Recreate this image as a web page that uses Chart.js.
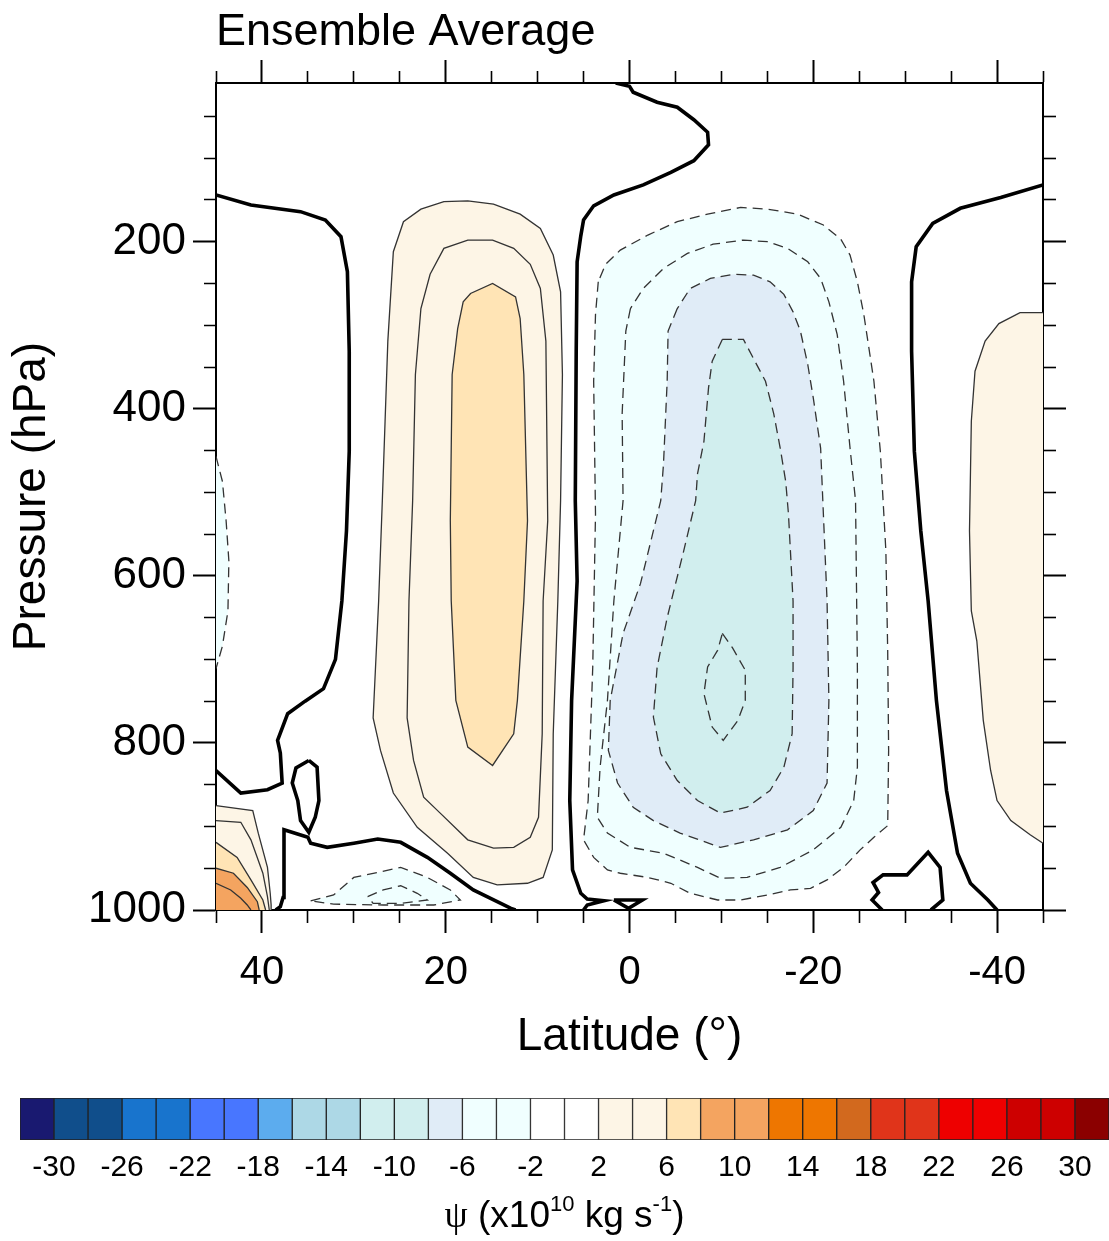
<!DOCTYPE html>
<html>
<head>
<meta charset="utf-8">
<title>Ensemble Average</title>
<script src="https://cdn.jsdelivr.net/npm/chart.js@4.4.1/dist/chart.umd.min.js"></script>
<style>
    html, body { margin: 0; padding: 0; background: #fff; }
    #wrap { position: relative; width: 1109px; height: 1241px; overflow: hidden; background: #fff; }
    #main { position: absolute; left: 0; top: 0; }
    #bar { position: absolute; left: 0; top: 1085px; }
</style>
</head>
<body>
<div id="wrap">
    <canvas id="main" width="1109" height="1075"></canvas>
    <canvas id="bar" width="1109" height="156"></canvas>
</div>
<script>
// ===== Axes =====
const latLabels = [40, 20, 0, -20, -40];
const presLabels = [200, 400, 600, 800, 1000];
const colorbarLabels = [-30, -26, -22, -18, -14, -10, -6, -2, 2, 6, 10, 14, 18, 22, 26, 30];
const contourLevels = [-30, -28, -26, -24, -22, -20, -18, -16, -14, -12, -10, -8, -6, -4, -2, 0,
                       2, 4, 6, 8, 10, 12, 14, 16, 18, 20, 22, 24, 26, 28, 30];
const palette = ['#191970', '#104e8b', '#104e8b', '#1874cd', '#1874cd', '#4876ff', '#4876ff', '#5cacee',
                 '#add8e6', '#add8e6', '#d1eeee', '#d1eeee', '#e0ecf7', '#f0ffff', '#f0ffff', '#ffffff',
                 '#ffffff', '#fdf5e6', '#fdf5e6', '#ffe4b5', '#f4a460', '#f4a460', '#ee7600', '#ee7600',
                 '#d2691e', '#e0341a', '#e0341a', '#ee0000', '#ee0000', '#cd0000', '#cd0000', '#8b0000'];

// ===== Contours, [latitude, pressure hPa] =====
// zero line
const zeroA = [[45,144],[41.2,156],[35.8,164],[33.1,174],[31.4,194],[30.7,236],[30.5,331],[30.5,451],
               [30.8,546],[31.3,630],[32.0,700],[33.3,735],[35.3,750],[37.2,765],[38.3,797],[38.0,812],
               [37.8,848],[39.4,856],[42.3,860],[45,833]];
const zeroB = [[38.5,1000],[38.0,996],[37.7,985],[37.6,952],[37.6,904],[35.0,913],[34.7,920],[32.9,925],
               [30.0,920],[27.4,915],[24.9,919],[22.0,937],[19.5,956],[17.0,976],[12.9,998],[12.4,1000]];
const zeroC = [[34.9,821],[34.0,829],[33.8,869],[34.2,889],[34.9,907],[35.8,893],[36.1,869],[36.7,848],
               [36.3,830]];
const zeroD = [[1.5,10],[0,14],[-0.4,21],[-3.0,33],[-5.2,39],[-7.0,54],[-8.5,69],[-8.6,84],[-7.0,103],
               [-4.5,117],[-1.5,132],[1.7,144],[3.9,157],[5.0,174],[5.3,193],[5.7,224],[5.8,331],
               [5.9,510],[5.7,606],[6.3,749],[6.5,869],[6.2,952],[5.3,980],[4.6,987],[2.8,989],
               [4.6,994],[5.0,1000]];
const zeroE = [[-45,132],[-40.4,147],[-36.0,160],[-33.0,178],[-31.2,206],[-30.7,248],[-30.7,331],
               [-31.0,451],[-31.7,546],[-32.5,630],[-33.4,749],[-34.5,857],[-35.7,932],[-37.1,968],
               [-39.0,988],[-40.0,1000]];
const zeroF = [[-27.5,1000],[-26.4,988],[-27.1,979],[-26.5,967],[-27.6,958],[-30.2,958],[-32.5,931],
               [-33.8,949],[-34.1,988],[-32.8,1000]];
const zeroG = [[1.7,988],[-1.4,988],[0.1,998]];

// positive
const nh2 = [[26.3,319],[25.7,212],[24.6,176],[22.7,161],[20.2,152],[17.6,151],[14.8,155],[11.9,167],
             [9.7,184],[8.3,216],[7.5,260],[7.3,359],[7.5,510],[7.8,630],[8.3,789],[8.4,928],[9.4,961],
             [11.1,968],[14.4,970],[17.0,961],[19.8,932],[23.1,901],[25.7,860],[27.1,809],[27.9,770],
             [27.3,630],[26.9,510],[26.6,415]];
const nh4 = [[23.3,359],[22.7,280],[21.7,239],[20.2,208],[17.6,198],[14.9,198],[12.6,208],[10.8,227],
             [9.7,256],[9.1,319],[8.9,534],[9.4,630],[9.5,789],[9.9,889],[10.8,913],[12.6,925],
             [14.8,926],[17.6,916],[20.6,884],[22.4,865],[23.5,821],[24.2,770],[24.0,630],[23.6,510]];
const nh6 = [[19.3,359],[18.7,304],[18.1,272],[17.3,262],[14.9,250],[12.4,266],[11.9,292],[11.5,359],
             [11.1,534],[11.5,630],[12.2,749],[12.6,789],[14.9,827],[17.6,805],[18.9,749],[19.4,630],
             [19.5,534]];
const corner2 = [[45,875],[41.0,881],[40.4,908],[39.4,949],[39.1,980],[39.0,994],[39.0,1000]];
const corner4 = [[45,893],[42.3,895],[41.2,916],[39.9,956],[39.4,984],[39.2,1000]];
const corner6 = [[45,919],[42.7,937],[41.2,964],[39.9,988],[39.6,1000]];
const corner8 = [[45,950],[43.1,956],[41.6,973],[40.5,990],[40.3,1000]];
const corner10 = [[45,968],[43.4,976],[42.3,986],[41.6,994],[41.2,1000]];
const sh2 = [[-45,285],[-42.5,285],[-40.2,298],[-38.7,319],[-37.6,355],[-37.2,415],[-37.0,546],
             [-37.2,642],[-37.8,678],[-38.5,773],[-39.3,833],[-40.0,869],[-41.5,893],[-43.6,910],
             [-45,920]];

// negative
const west2 = [[45,457],[44.3,487],[43.9,534],[43.6,582],[43.7,642],[44.3,684],[45,711]];
const low2 = [[34.7,989],[32.2,982],[30.0,961],[27.4,955],[24.9,949],[22.0,961],[19.5,976],[18.4,988],
              [21.3,994],[26.8,994],[32.2,993]];
const low4 = [[28.5,984],[26.8,976],[24.9,971],[23.1,980],[22.0,988],[24.9,992],[27.9,992]];
const cell2 = [[3.4,248],[3.7,287],[3.9,367],[3.7,526],[4.0,709],[4.5,869],[5.0,916],[3.9,937],[2.4,952],
               [1.0,956],[-2.0,961],[-4.5,968],[-6.6,980],[-9.6,988],[-12.1,988],[-15.0,982],[-17.5,976],
               [-19.7,974],[-21.5,964],[-23.3,949],[-25.1,928],[-26.6,913],[-28.1,899],[-28.2,809],
               [-28.1,690],[-27.9,570],[-27.3,451],[-26.6,367],[-25.5,287],[-24.8,248],[-24.0,216],
               [-23.0,197],[-21.1,180],[-18.3,167],[-15.0,161],[-12.1,159],[-8.5,167],[-5.2,176],
               [-2.0,192],[1.0,210],[2.6,227]];
const cell4 = [[-0.1,280],[0.4,307],[0.8,406],[0.7,510],[1.7,630],[2.4,749],[3.2,829],[3.5,889],
               [2.4,908],[-0.1,925],[-3.7,932],[-7.4,949],[-9.9,962],[-12.8,961],[-16.4,949],
               [-20.0,928],[-23.0,901],[-24.4,869],[-24.8,829],[-24.8,710],[-24.6,510],[-24.0,447],
               [-23.3,367],[-22.6,311],[-21.7,272],[-20.8,244],[-19.4,224],[-17.2,208],[-15.0,200],
               [-12.4,198],[-9.1,203],[-6.3,214],[-3.7,232],[-1.5,256]];
const cell6 = [[-5.2,280],[-4.2,307],[-4.1,367],[-3.7,466],[-3.4,510],[-1.2,609],[0.7,669],[2.1,749],
               [2.3,809],[1.3,848],[-0.4,877],[-2.6,893],[-5.5,908],[-9.9,925],[-13.5,916],[-17.2,904],
               [-20.0,881],[-21.5,848],[-21.7,749],[-21.5,630],[-21.1,526],[-20.8,447],[-20.0,387],
               [-19.4,347],[-18.6,307],[-17.8,284],[-16.8,263],[-15.3,248],[-13.5,240],[-11.3,239],
               [-8.8,244],[-6.6,256]];
const cell8 = [[-10.1,317],[-9.0,343],[-8.6,375],[-8.1,439],[-7.4,478],[-7.2,510],[-5.9,570],[-4.1,650],
               [-3.0,710],[-2.6,769],[-3.4,813],[-5.2,845],[-7.4,869],[-9.9,884],[-12.8,877],
               [-15.3,857],[-16.8,829],[-17.7,789],[-17.8,710],[-17.8,630],[-17.3,526],[-17.0,487],
               [-16.4,447],[-15.7,406],[-14.8,367],[-13.5,340],[-12.4,317]];
const cell10 = [[-10.1,669],[-11.2,686],[-12.6,713],[-12.6,749],[-11.8,773],[-10.2,797],[-9.0,781],
                [-8.1,741],[-8.5,709],[-9.6,689]];

// level, points, closed loop, extra border points to close the shaded area
const contours = [
    { level: 0, pts: zeroA }, { level: 0, pts: zeroB }, { level: 0, pts: zeroC, closed: true },
    { level: 0, pts: zeroD }, { level: 0, pts: zeroE }, { level: 0, pts: zeroF },
    { level: 0, pts: zeroG, closed: true },
    { level: 2, pts: nh2, closed: true }, { level: 4, pts: nh4, closed: true },
    { level: 6, pts: nh6, closed: true },
    { level: 2, pts: corner2, edge: [[45, 1000]] }, { level: 4, pts: corner4, edge: [[45, 1000]] },
    { level: 6, pts: corner6, edge: [[45, 1000]] }, { level: 8, pts: corner8, edge: [[45, 1000]] },
    { level: 10, pts: corner10, edge: [[45, 1000]] },
    { level: 2, pts: sh2, edge: [] },
    { level: -2, pts: west2, edge: [] },
    { level: -2, pts: low2, closed: true }, { level: -4, pts: low4, closed: true },
    { level: -2, pts: cell2, closed: true }, { level: -4, pts: cell4, closed: true },
    { level: -6, pts: cell6, closed: true }, { level: -8, pts: cell8, closed: true },
    { level: -10, pts: cell10, closed: true }
];

// ===== Helpers =====
const SANS = '"Liberation Sans", Arial, Helvetica, sans-serif';
Chart.defaults.font.family = SANS;
Chart.defaults.color = '#000';

const toXY = pts => pts.map(([x, y]) => ({ x, y }));

function fillColor(level) {
    // colour of the band just beyond the contour
    const i = level > 0 ? contourLevels.indexOf(level) + 1 : contourLevels.indexOf(level);
    return palette[i];
}

function buildDatasets() {
    const fills = [];
    const lines = [];

    contours.forEach(c => {
        const pts = c.closed ? c.pts.concat([c.pts[0]]) : c.pts;

        if (c.level !== 0 && (c.closed || c.edge)) {
            fills.push({
                abs: Math.abs(c.level),
                ds: {
                    data: toXY(c.closed ? pts : pts.concat(c.edge)),
                    fill: 'shape',
                    backgroundColor: fillColor(c.level),
                    borderWidth: 0,
                    borderColor: 'rgba(0,0,0,0)',
                    pointRadius: 0
                }
            });
        }

        let style;
        if (c.level === 0) style = { borderColor: '#000', borderWidth: 3.6 };
        else if (c.level > 0) style = { borderColor: '#333', borderWidth: 1.3 };
        else style = { borderColor: '#333', borderWidth: 1.3, borderDash: [10, 6] };

        lines.push({ data: toXY(pts), fill: false, pointRadius: 0, ...style });
    });

    fills.sort((a, b) => a.abs - b.abs);
    // first dataset is painted last, so reverse the bottom-to-top list
    return fills.map(f => f.ds).concat(lines).reverse();
}

function tickRange(from, to, step) {
    const out = [];
    for (let v = from; v <= to; v += step) out.push(v);
    return out;
}

function axis(kind, position, showLabels, size) {
    const major = kind === 'lat' ? latLabels : presLabels;
    const all = kind === 'lat' ? tickRange(-45, 45, 5) : tickRange(50, 1000, 50);
    const farFirst = position === 'top' || position === 'left';
    const isMajor = c => c.tick && major.includes(c.tick.value);

    return {
        type: 'linear',
        position: position,
        min: kind === 'lat' ? -45 : 10,
        max: kind === 'lat' ? 45 : 1000,
        reverse: true,
        afterBuildTicks: s => { s.ticks = all.map(v => ({ value: v })); },
        afterFit: s => {
            if (kind === 'lat') s.height = size;
            else s.width = size;
        },
        grid: {
            drawOnChartArea: false,
            tickLength: 23,
            tickColor: '#000',
            tickWidth: c => isMajor(c) ? 2 : 1.6,
            // minor ticks: only the 11px next to the frame
            tickBorderDash: c => isMajor(c) ? [] : (farFirst ? [0, 11, 12, 40] : [12, 40])
        },
        border: { display: true, color: '#000', width: 2 },
        ticks: {
            display: showLabels,
            autoSkip: false,
            maxRotation: 0,
            padding: kind === 'lat' ? 16 : 7,
            font: { size: kind === 'lat' ? 40 : 44 },
            color: '#000',
            callback: v => major.includes(v) ? String(v) : ''
        },
        title: {
            display: showLabels,
            text: kind === 'lat' ? 'Latitude (°)' : 'Pressure (hPa)',
            font: { size: 46 },
            color: '#000',
            padding: kind === 'lat' ? { top: 0, bottom: 10 } : { top: 5, bottom: 0 }
        }
    };
}

// ===== Main panel =====
new Chart(document.getElementById('main'), {
    type: 'line',
    data: { datasets: buildDatasets() },
    options: {
        responsive: false,
        animation: false,
        devicePixelRatio: 1,
        events: [],
        layout: { padding: 0 },
        plugins: {
            legend: { display: false },
            tooltip: { enabled: false },
            title: {
                display: true,
                text: 'Ensemble Average',
                align: 'start',
                fullSize: false,
                color: '#000',
                font: { size: 45, weight: 'normal' },
                padding: { top: 6, bottom: 6 }
            }
        },
        scales: {
            x: axis('lat', 'bottom', true, 165),
            x2: axis('lat', 'top', false, 17),
            y: axis('pres', 'left', true, 216),
            y2: axis('pres', 'right', false, 66)
        }
    }
});

// ===== Colour bar =====
const boxCenters = palette.map((c, i) => (i === 0 ? -32 : contourLevels[i - 1]) + 1);

// unit label with real superscripts, centred under the bar
const unitLabel = {
    id: 'unitLabel',
    afterDraw(chart) {
        const ctx = chart.ctx;
        const size = 37;
        const parts = [
            { t: 'ψ', font: size + 'px "Liberation Serif", serif', rise: 0 },
            { t: ' (x10', font: size + 'px ' + SANS, rise: 0 },
            { t: '10', font: Math.round(size * 0.6) + 'px ' + SANS, rise: size * 0.42 },
            { t: ' kg s', font: size + 'px ' + SANS, rise: 0 },
            { t: '-1', font: Math.round(size * 0.6) + 'px ' + SANS, rise: size * 0.42 },
            { t: ')', font: size + 'px ' + SANS, rise: 0 }
        ];
        ctx.save();
        let total = 0;
        parts.forEach(p => { ctx.font = p.font; p.w = ctx.measureText(p.t).width; total += p.w; });
        const area = chart.chartArea;
        let x = (area.left + area.right) / 2 - total / 2;
        const base = 142;
        ctx.fillStyle = '#000';
        ctx.textBaseline = 'alphabetic';
        ctx.textAlign = 'left';
        parts.forEach(p => {
            ctx.font = p.font;
            ctx.fillText(p.t, x, base - p.rise);
            x += p.w;
        });
        ctx.restore();
    }
};

new Chart(document.getElementById('bar'), {
    type: 'bar',
    data: {
        datasets: [{
            data: boxCenters.map(x => ({ x: x, y: 1 })),
            backgroundColor: palette,
            borderColor: '#222',
            borderWidth: 1,
            borderSkipped: false,
            barPercentage: 1,
            categoryPercentage: 1
        }]
    },
    options: {
        responsive: false,
        animation: false,
        devicePixelRatio: 1,
        events: [],
        layout: { padding: { left: 20, right: 0, top: 13, bottom: 0 } },
        plugins: { legend: { display: false }, tooltip: { enabled: false } },
        scales: {
            x: {
                type: 'linear',
                min: -32,
                max: 32,
                offset: false,
                grid: { display: false },
                border: { display: false },
                afterBuildTicks: s => { s.ticks = colorbarLabels.map(v => ({ value: v })); },
                afterFit: s => { s.height = 101; },
                ticks: { autoSkip: false, maxRotation: 0, padding: 2, font: { size: 30 }, color: '#000',
                         callback: v => String(v) }
            },
            y: { display: false, min: 0, max: 1 }
        }
    },
    plugins: [unitLabel]
});
</script>
</body>
</html>
